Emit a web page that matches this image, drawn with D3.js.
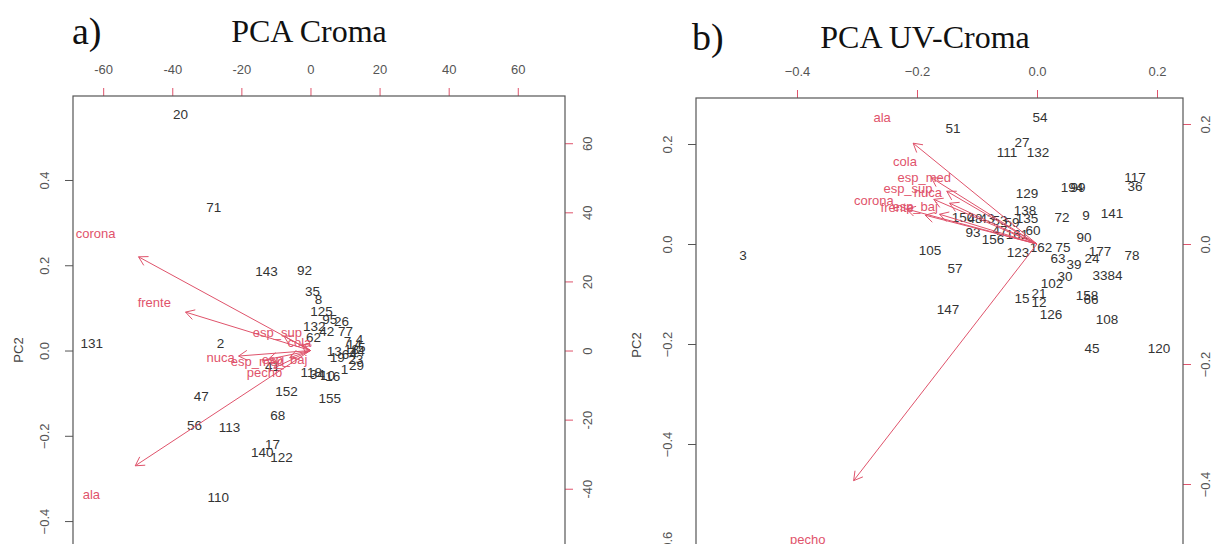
<!DOCTYPE html>
<html>
<head>
<meta charset="utf-8">
<script src="https://cdn.jsdelivr.net/npm/d3@7"></script>
<style>
  html, body { margin: 0; padding: 0; background: #fff; }
  svg { display: block; }
</style>
</head>
<body>
<svg id="chart" width="1221" height="544"></svg>
<script>
// ---- Panel a: PCA Croma ----
const aObs = ["20","71","143","92","35","8","125","95","26","132","42","77","62","131","2","41","47","56","113","152","155","68","17","140","122","110","118","34","16","10","13","19","29","1","4","14","18","44","64","5","23","7"];
const aPC1 = [-0.305,-0.227,-0.103,-0.014,0.005,0.019,0.026,0.045,0.073,0.009,0.038,0.082,0.007,-0.513,-0.211,-0.089,-0.256,-0.272,-0.190,-0.056,0.045,-0.077,-0.089,-0.113,-0.068,-0.216,0.002,0.016,0.052,0.040,0.056,0.063,0.108,0.080,0.115,0.103,0.096,0.110,0.091,0.120,0.106,0.087];
const aPC2 = [0.553,0.335,0.185,0.188,0.138,0.120,0.091,0.073,0.068,0.056,0.045,0.045,0.030,0.016,0.016,-0.038,-0.108,-0.176,-0.181,-0.096,-0.113,-0.152,-0.220,-0.239,-0.251,-0.345,-0.052,-0.056,-0.061,-0.059,-0.002,-0.016,-0.035,-0.045,0.026,0.014,0.002,-0.002,-0.009,0.007,-0.021,0.021];
const aVars = ["corona","frente","ala","nuca","esp_sup","cola","esp_med","esp_baj","pecho"];
const aLoad1 = [-62.2,-45.2,-63.4,-26.0,-9.6,-3.2,-15.3,-7.5,-13.3];
const aLoad2 = [33.9,13.9,-41.7,-2.0,5.2,2.3,-3.2,-2.6,-6.4];
const aScoreTicks = [-0.4,-0.2,0.0,0.2,0.4];
const aLoadTicksX = [-60,-40,-20,0,20,40,60];
const aLoadTicksY = [-40,-20,0,20,40,60];

// ---- Panel b: PCA UV-Croma ----
const bObs = ["3","51","54","27","111","132","129","138","135","72","9","141","117","36","194","99","150","48","43","53","59","47","161","93","156","60","123","162","75","63","90","177","24","78","39","30","33","84","102","15","21","12","158","66","126","108","45","120","105","57","147"];
const bPC1 = [-0.588,-0.168,0.006,-0.030,-0.060,0.002,-0.020,-0.024,-0.020,0.050,0.098,0.150,0.196,0.196,0.070,0.082,-0.148,-0.124,-0.100,-0.074,-0.050,-0.074,-0.040,-0.128,-0.088,-0.008,-0.038,0.008,0.052,0.042,0.094,0.126,0.110,0.190,0.074,0.056,0.126,0.156,0.030,-0.030,0.004,0.004,0.100,0.108,0.028,0.140,0.110,0.244,-0.214,-0.164,-0.178];
const bPC2 = [-0.022,0.232,0.254,0.204,0.184,0.184,0.102,0.068,0.052,0.054,0.058,0.062,0.134,0.116,0.114,0.114,0.054,0.052,0.052,0.048,0.044,0.028,0.020,0.024,0.010,0.028,-0.016,-0.006,-0.006,-0.028,0.014,-0.014,-0.028,-0.022,-0.040,-0.064,-0.062,-0.062,-0.078,-0.108,-0.098,-0.116,-0.102,-0.110,-0.140,-0.150,-0.208,-0.208,-0.012,-0.048,-0.130];
const bVars = ["ala","cola","esp_med","esp_sup","nuca","corona","frente","esp_baj","pecho"];
const bLoad1 = [-0.258,-0.220,-0.188,-0.215,-0.182,-0.272,-0.233,-0.203,-0.382];
const bLoad2 = [0.210,0.138,0.110,0.093,0.085,0.073,0.060,0.062,-0.493];
const bScoreTicks = [-0.6,-0.4,-0.2,0.0,0.2];
const bLoadTicksX = [-0.4,-0.2,0.0,0.2];
const bLoadTicksY = [-0.4,-0.2,0.0,0.2];

const RED = "#DF536B";
const AXIS = "#555";
const svg = d3.select("#chart");

function biplot(cfg) {
  const g = svg.append("g");
  const { x0, x1, y0, y1, lim, ratio } = cfg;
  // scores share one square frame; loadings use the same frame scaled by ratio
  const sx = d3.scaleLinear().domain(lim).range([x0, x1]);
  const sy = d3.scaleLinear().domain(lim).range([y1, y0]);
  const lx = d3.scaleLinear().domain(lim.map(v => v * ratio)).range([x0, x1]);
  const ly = d3.scaleLinear().domain(lim.map(v => v * ratio)).range([y1, y0]);

  const fmt = cfg.fmt;
  const styleAxis = (sel, tickColor) => {
    sel.select(".domain").remove();
    sel.selectAll(".tick line").attr("stroke", tickColor);
    sel.selectAll(".tick text").attr("fill", "#555")
      .style("font-family", "'Liberation Sans', Arial, sans-serif").style("font-size", "13px");
  };

  // left axis (scores)
  const left = g.append("g").attr("transform", `translate(${x0},0)`)
    .call(d3.axisLeft(sy).tickValues(cfg.scoreTicks).tickSize(8).tickPadding(0).tickFormat(fmt.score));
  styleAxis(left, AXIS);
  left.selectAll(".tick text").attr("x", 0).attr("dy", 0)
    .attr("text-anchor", "middle")
    .attr("transform", "translate(-24,0) rotate(-90)");

  // top axis (loadings)
  const top = g.append("g").attr("transform", `translate(0,${y0})`)
    .call(d3.axisTop(lx).tickValues(cfg.loadTicksX).tickSize(8).tickPadding(14).tickFormat(fmt.load));
  styleAxis(top, RED);

  // right axis (loadings)
  const right = g.append("g").attr("transform", `translate(${x1},0)`)
    .call(d3.axisRight(ly).tickValues(cfg.loadTicksY).tickSize(8).tickPadding(0).tickFormat(fmt.load));
  styleAxis(right, RED);
  right.selectAll(".tick text").attr("x", 0).attr("dy", 0)
    .attr("text-anchor", "middle")
    .attr("transform", "translate(27,0) rotate(-90)");

  // frame
  g.append("rect").attr("x", x0).attr("y", y0).attr("width", x1 - x0).attr("height", y1 - y0)
    .attr("fill", "none").attr("stroke", AXIS).attr("stroke-width", 1.2);

  // y-axis title
  g.append("text").attr("transform", `translate(${cfg.pcX},${cfg.pcY}) rotate(-90)`)
    .attr("text-anchor", "middle").attr("dominant-baseline", "central")
    .style("font-family", "'Liberation Sans', Arial, sans-serif").style("font-size", "13px")
    .attr("fill", "#444").text("PC2");

  // observation labels
  g.append("g").selectAll("text").data(cfg.obs).join("text")
    .attr("x", (d, i) => sx(cfg.pc1[i])).attr("y", (d, i) => sy(cfg.pc2[i]))
    .attr("text-anchor", "middle").attr("dominant-baseline", "central")
    .style("font-family", "'Liberation Sans', Arial, sans-serif").style("font-size", "13.5px")
    .attr("fill", "#333").text(d => d);

  // variable arrows (drawn to 80% of the loading) and labels
  const ox = lx(0), oy = ly(0);
  const arrows = g.append("g").attr("stroke", RED).attr("stroke-width", 1).attr("fill", "none");
  cfg.vars.forEach((v, i) => {
    const tx = ox + (lx(cfg.l1[i]) - ox) * 0.8;
    const ty = oy + (ly(cfg.l2[i]) - oy) * 0.8;
    const ang = Math.atan2(ty - oy, tx - ox);
    const hl = 10, ha = Math.PI / 6;
    const p = d3.path();
    p.moveTo(ox, oy); p.lineTo(tx, ty);
    p.moveTo(tx - hl * Math.cos(ang - ha), ty - hl * Math.sin(ang - ha));
    p.lineTo(tx, ty);
    p.lineTo(tx - hl * Math.cos(ang + ha), ty - hl * Math.sin(ang + ha));
    arrows.append("path").attr("d", p.toString());
  });
  g.append("g").selectAll("text").data(cfg.vars).join("text")
    .attr("x", (d, i) => lx(cfg.l1[i])).attr("y", (d, i) => ly(cfg.l2[i]))
    .attr("text-anchor", "middle").attr("dominant-baseline", "central")
    .style("font-family", "'Liberation Sans', Arial, sans-serif").style("font-size", "13px")
    .attr("fill", RED).text(d => d);

  // panel tag and title
  svg.append("text").attr("x", cfg.tagX).attr("y", cfg.tagY)
    .style("font-family", "'Liberation Serif', 'Times New Roman', serif").style("font-size", "38px")
    .attr("fill", "#111").text(cfg.tag);
  svg.append("text").attr("x", cfg.titleX).attr("y", cfg.titleY).attr("text-anchor", "middle")
    .style("font-family", "'Liberation Serif', 'Times New Roman', serif").style("font-size", "32px")
    .attr("fill", "#111").text(cfg.title);
}

biplot({
  x0: 73, x1: 565, y0: 96, y1: 588, lim: [-0.557, 0.597], ratio: 123.4,
  obs: aObs, pc1: aPC1, pc2: aPC2, vars: aVars, l1: aLoad1, l2: aLoad2,
  scoreTicks: aScoreTicks, loadTicksX: aLoadTicksX, loadTicksY: aLoadTicksY,
  fmt: { score: d3.format(".1f"), load: d => String(d) },
  pcX: 18, pcY: 350,
  tag: "a)", tagX: 72, tagY: 44, title: "PCA Croma", titleX: 309, titleY: 42
});

biplot({
  x0: 696, x1: 1183, y0: 98, y1: 585, lim: [-0.682, 0.292], ratio: 0.8333,
  obs: bObs, pc1: bPC1, pc2: bPC2, vars: bVars, l1: bLoad1, l2: bLoad2,
  scoreTicks: bScoreTicks, loadTicksX: bLoadTicksX, loadTicksY: bLoadTicksY,
  fmt: { score: d3.format(".1f"), load: d3.format(".1f") },
  pcX: 636, pcY: 345,
  tag: "b)", tagX: 692, tagY: 50, title: "PCA UV-Croma", titleX: 925, titleY: 48
});
</script>
</body>
</html>
